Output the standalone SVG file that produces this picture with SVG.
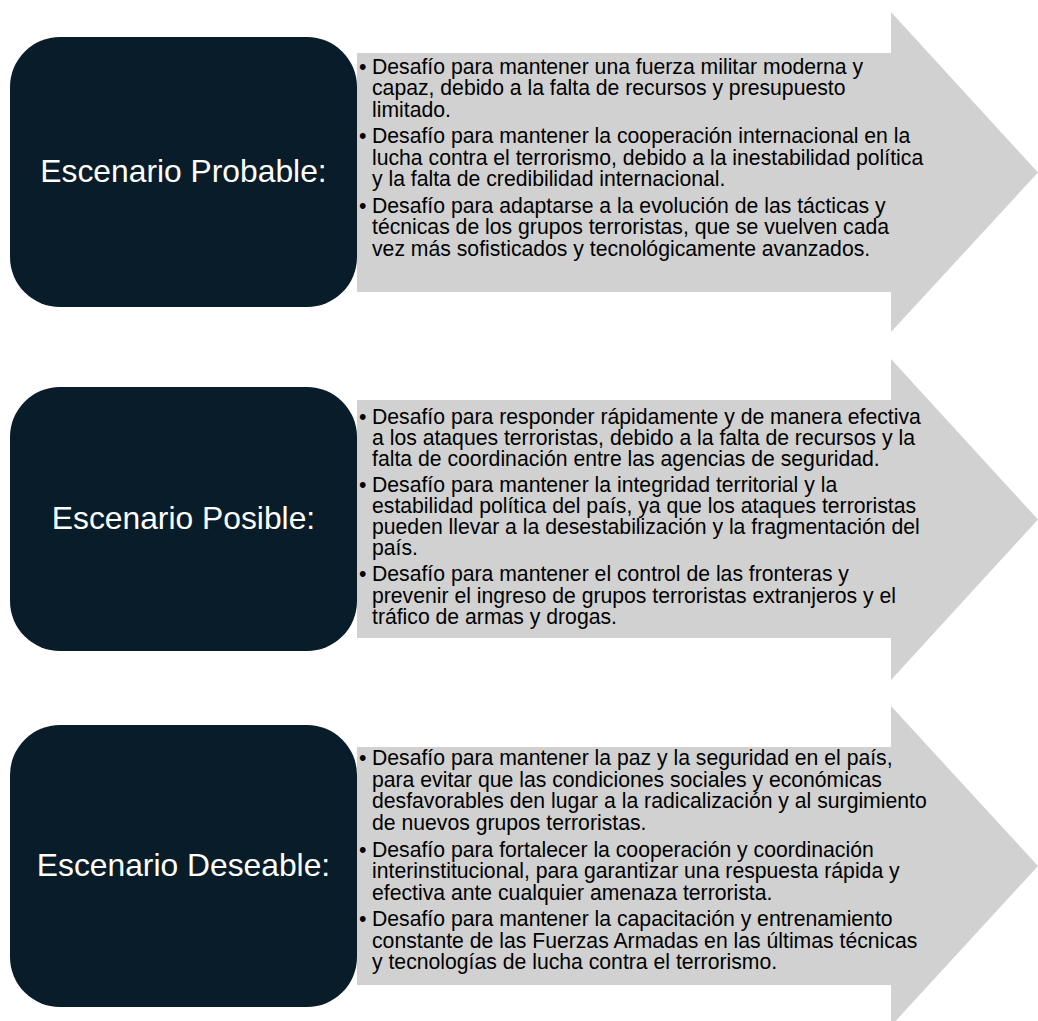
<svg xmlns="http://www.w3.org/2000/svg" width="1038" height="1021" viewBox="0 0 1038 1021">
<style>
.box{fill:#081c2a}
.arrow{fill:#d1d1d1}
.title{font-family:"Liberation Sans",Arial,sans-serif;font-size:31.8px;fill:#ffffff;text-anchor:middle}
.body{font-family:"Liberation Sans",Arial,sans-serif;font-size:21.2px;fill:#000000}
</style>
<rect width="1038" height="1021" fill="#ffffff"/>
<g id="row1-arrow">
<path class="arrow" d="M357,53 H891 V12 L1038,172.5 L891,332 V292 H357 Z"/>
<text class="body">
<tspan x="359" y="73.5">•</tspan>
<tspan x="372" y="73.5">Desafío para mantener una fuerza militar moderna y</tspan>
<tspan x="372" y="95">capaz, debido a la falta de recursos y presupuesto</tspan>
<tspan x="372" y="116.5">limitado.</tspan>
<tspan x="359" y="143">•</tspan>
<tspan x="372" y="143">Desafío para mantener la cooperación internacional en la</tspan>
<tspan x="372" y="164.5">lucha contra el terrorismo, debido a la inestabilidad política</tspan>
<tspan x="372" y="186">y la falta de credibilidad internacional.</tspan>
<tspan x="359" y="212.5">•</tspan>
<tspan x="372" y="212.5">Desafío para adaptarse a la evolución de las tácticas y</tspan>
<tspan x="372" y="234">técnicas de los grupos terroristas, que se vuelven cada</tspan>
<tspan x="372" y="255.5">vez más sofisticados y tecnológicamente avanzados.</tspan>
</text>
</g>
<g id="row1-box">
<rect class="box" x="10" y="37" width="347" height="270" rx="50" ry="50"/>
<text class="title" x="183.5" y="182">Escenario Probable:</text>
</g>
<g id="row2-arrow">
<path class="arrow" d="M357,400 H891 V359 L1038,519.5 L891,680 V638 H357 Z"/>
<text class="body">
<tspan x="359" y="423.5">•</tspan>
<tspan x="372" y="423.5">Desafío para responder rápidamente y de manera efectiva</tspan>
<tspan x="372" y="444.5">a los ataques terroristas, debido a la falta de recursos y la</tspan>
<tspan x="372" y="465.5">falta de coordinación entre las agencias de seguridad.</tspan>
<tspan x="359" y="491.5">•</tspan>
<tspan x="372" y="491.5">Desafío para mantener la integridad territorial y la</tspan>
<tspan x="372" y="512.5">estabilidad política del país, ya que los ataques terroristas</tspan>
<tspan x="372" y="533.5">pueden llevar a la desestabilización y la fragmentación del</tspan>
<tspan x="372" y="554.5">país.</tspan>
<tspan x="359" y="581">•</tspan>
<tspan x="372" y="581">Desafío para mantener el control de las fronteras y</tspan>
<tspan x="372" y="602.5">prevenir el ingreso de grupos terroristas extranjeros y el</tspan>
<tspan x="372" y="624">tráfico de armas y drogas.</tspan>
</text>
</g>
<g id="row2-box">
<rect class="box" x="10" y="387" width="347" height="264" rx="50" ry="50"/>
<text class="title" x="183.5" y="529">Escenario Posible:</text>
</g>
<g id="row3-arrow">
<path class="arrow" d="M357,747 H891 V706 L1038,866 L891,1026 V985 H357 Z"/>
<text class="body">
<tspan x="359" y="765">•</tspan>
<tspan x="372" y="765">Desafío para mantener la paz y la seguridad en el país,</tspan>
<tspan x="372" y="786.5">para evitar que las condiciones sociales y económicas</tspan>
<tspan x="372" y="808">desfavorables den lugar a la radicalización y al surgimiento</tspan>
<tspan x="372" y="829.5">de nuevos grupos terroristas.</tspan>
<tspan x="359" y="856.5">•</tspan>
<tspan x="372" y="856.5">Desafío para fortalecer la cooperación y coordinación</tspan>
<tspan x="372" y="878">interinstitucional, para garantizar una respuesta rápida y</tspan>
<tspan x="372" y="899.5">efectiva ante cualquier amenaza terrorista.</tspan>
<tspan x="359" y="926">•</tspan>
<tspan x="372" y="926">Desafío para mantener la capacitación y entrenamiento</tspan>
<tspan x="372" y="947.5">constante de las Fuerzas Armadas en las últimas técnicas</tspan>
<tspan x="372" y="969">y tecnologías de lucha contra el terrorismo.</tspan>
</text>
</g>
<g id="row3-box">
<rect class="box" x="10" y="725" width="347" height="282" rx="50" ry="50"/>
<text class="title" x="183.5" y="876">Escenario Deseable:</text>
</g>
</svg>
